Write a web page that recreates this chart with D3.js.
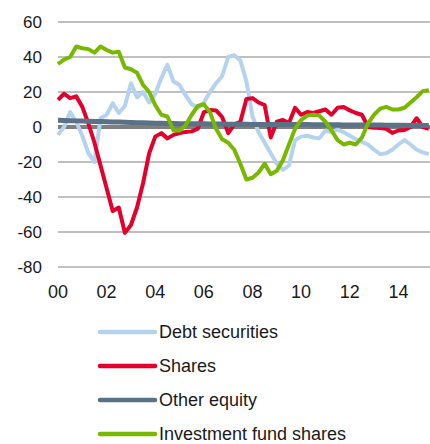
<!DOCTYPE html>
<html>
<head>
<meta charset="utf-8">
<script src="https://cdn.jsdelivr.net/npm/d3@7"></script>
<style>
  body { margin: 0; background: #fff; }
  svg text { font-family: "Liberation Sans", Arial, sans-serif; fill: #1a1a1a; }
</style>
</head>
<body>
<svg id="chart" width="430" height="444"></svg>
<script>
// quarterly observations, 2000 Q1 onwards
var startYear = 2000;
var yTicks = [-80, -60, -40, -20, 0, 20, 40, 60];
var xTicks = [2000, 2002, 2004, 2006, 2008, 2010, 2012, 2014];
var xTickLabels = ["00", "02", "04", "06", "08", "10", "12", "14"];

var debtSecurities = [
  -4.5, 0, 8.5, 3, -5, -15, -20, 5, 7, 13.5,
  8, 12, 25, 17, 20, 14, 19, 28, 35.5, 26,
  24, 18, 13, 11, 14, 20, 25, 29, 40, 41,
  38, 26, 6, -3, -9, -15, -21, -24.5, -22, -7.5,
  -5.5, -5, -6, -6.5, -2, -3, -1.5, -3, -5, -7,
  -8.5, -10, -13, -15.5, -15, -13, -10, -7.5, -10, -13,
  -14.5, -15.5
];
var shares = [
  15.5, 19, 16.5, 17.5, 11.5, 2, -9, -22, -35, -48,
  -46, -60.5, -56, -46, -32, -15, -5.5, -3.5, -6.5, -4.5,
  -3.5, -2.8, -2.5, -1, 8.5, 9.7, 9.5, 5.7, -3.5, 1.5,
  3, 16, 16.5, 14, 12.5, -6, 3, 4, 2.3, 11,
  7, 8.6, 8, 9, 10, 7, 11, 11.4, 9.5, 8,
  7, 0, -0.5, -0.6, -1, -3.4, -2, -1.7, 0, 5,
  0, -1
];
var otherEquity = [
  3.8, 3.7, 3.6, 3.5, 3.4, 3.3, 3.2, 3.1, 3.0, 2.9,
  2.8, 2.7, 2.6, 2.5, 2.4, 2.3, 2.2, 2.1, 2.0, 2.0,
  1.9, 1.9, 1.8, 1.8, 1.8, 1.7, 1.7, 1.7, 1.6, 1.6,
  1.6, 1.6, 1.5, 1.5, 1.5, 1.5, 1.5, 1.4, 1.4, 1.4,
  1.4, 1.4, 1.3, 1.3, 1.3, 1.3, 1.3, 1.2, 1.2, 1.2,
  1.2, 1.1, 1.1, 1.1, 1.0, 1.0, 1.0, 1.0, 0.9, 0.9,
  0.9, 0.9
];
var fundShares = [
  36, 38.5, 40, 46, 45, 44.5, 42.5, 46, 44, 42.5,
  43, 34, 33, 31, 24, 20, 12.5, 7, 6, -2,
  -2, 1, 7, 12, 13, 8.5, -1, -7, -9, -13,
  -21, -30, -29, -26, -21, -27, -25, -19, -10, -1,
  4, 6.5, 7, 6.5, 3, -2, -7.5, -10, -9, -10,
  -6, 2, 7, 10.5, 11.5, 10, 10, 11, 14, 17,
  20.5, 21
];

var series = [
  { name: "Debt securities", values: debtSecurities, color: "#b5d3ef", width: 4 },
  { name: "Shares", values: shares, color: "#e3002c", width: 4 },
  { name: "Other equity", values: otherEquity, color: "#5b7185", width: 5 },
  { name: "Investment fund shares", values: fundShares, color: "#78b800", width: 4 }
];

var svg = d3.select("#chart");
var x = d3.scaleLinear().domain([2000, 2015.3]).range([58, 430]);
var y = d3.scaleLinear().domain([-80, 60]).range([267, 22]);

// Horizontal grid
svg.append("g")
  .selectAll("line")
  .data(yTicks.filter(function(d) { return d !== 0; }))
  .enter()
  .append("line")
    .attr("x1", x.range()[0])
    .attr("x2", x.range()[1])
    .attr("y1", function(d) { return y(d); })
    .attr("y2", function(d) { return y(d); })
    .attr("stroke", "#ababab")
    .attr("stroke-width", 1.5);

// zero line is heavier
svg.append("line")
  .attr("x1", x.range()[0])
  .attr("x2", x.range()[1])
  .attr("y1", y(0))
  .attr("y2", y(0))
  .attr("stroke", "#7f7f7f")
  .attr("stroke-width", 4);

// Y labels
svg.append("g")
  .selectAll("text")
  .data(yTicks)
  .enter()
  .append("text")
    .attr("x", 42)
    .attr("y", function(d) { return y(d); })
    .attr("dy", "0.35em")
    .attr("text-anchor", "end")
    .attr("font-size", 17)
    .text(function(d) { return d; });

// X labels
svg.append("g")
  .selectAll("text")
  .data(xTicks)
  .enter()
  .append("text")
    .attr("x", function(d) { return x(d); })
    .attr("y", 298)
    .attr("text-anchor", "middle")
    .attr("font-size", 18)
    .text(function(d, i) { return xTickLabels[i]; });

var line = d3.line()
  .x(function(d, i) { return x(startYear + i * 0.25); })
  .y(function(d) { return y(d); });

svg.append("g")
  .selectAll("path")
  .data(series)
  .enter()
  .append("path")
    .attr("d", function(d) { return line(d.values); })
    .attr("fill", "none")
    .attr("stroke", function(d) { return d.color; })
    .attr("stroke-width", function(d) { return d.width; })
    .attr("stroke-linejoin", "round");

// Legend
var legend = svg.append("g")
  .selectAll("g")
  .data(series)
  .enter()
  .append("g")
    .attr("transform", function(d, i) { return "translate(100, " + (332 + i * 34) + ")"; });

legend.append("line")
  .attr("x1", 0)
  .attr("x2", 55)
  .attr("stroke", function(d) { return d.color; })
  .attr("stroke-width", 4.5)
  .attr("stroke-linecap", "round");

legend.append("text")
  .attr("x", 59)
  .attr("dy", "0.35em")
  .attr("font-size", 18)
  .text(function(d) { return d.name; });
</script>
</body>
</html>
